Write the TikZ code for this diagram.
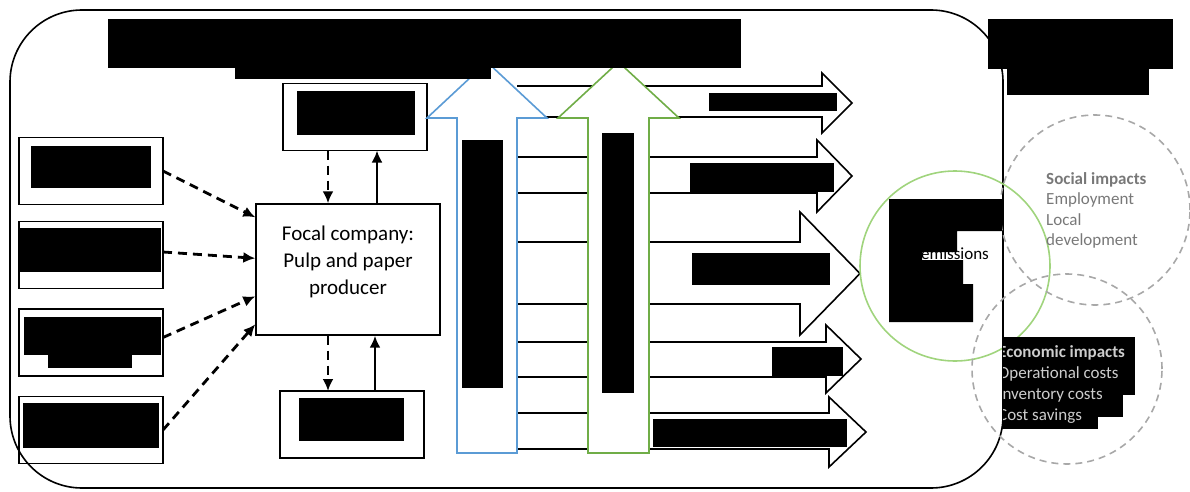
\documentclass[tikz,border=0pt]{standalone}
\usepackage{fontspec}
\setmainfont{Carlito}
\usetikzlibrary{arrows.meta, calc, positioning}

\definecolor{upblue}{RGB}{91,155,213}
\definecolor{upgreen}{RGB}{112,173,71}
\definecolor{ringgreen}{RGB}{160,212,125}
\definecolor{ringgray}{RGB}{168,168,168}
\definecolor{txtgray}{RGB}{120,120,120}
\definecolor{txtlight}{RGB}{205,205,205}

% block arrow to the right: top, bottom, head base, head top, head bottom, tip
\newcommand{\outarrow}[6]{%
  \draw[blockline] (517,#1) -- (#3,#1) -- (#3,#4) -- (#6,{(#4+#5)/2}) -- (#3,#5) -- (#3,#2) -- (517,#2);}

\begin{document}
\begin{tikzpicture}[x=1pt, y=-1pt, line join=miter]
	\tikzstyle{srcbox}=[draw, line width=1.4pt, minimum width=144pt, minimum height=67pt, inner sep=0pt, outer sep=0pt]
	\tikzstyle{dasharrow}=[line width=2.8pt, dash pattern=on 9pt off 6pt, -{Latex[length=12pt,width=11pt]}]
	\tikzstyle{fullarrow}=[line width=2.8pt, -{Latex[length=12pt,width=11pt]}]
	\tikzstyle{blockline}=[line width=1.6pt]
	\tikzstyle{upshaft}=[fill=white, line width=1.6pt]
	\tikzstyle{ring}=[ringgray, line width=1.6pt, dash pattern=on 7pt off 5pt]
	\useasboundingbox (0,0) rectangle (1190,492);

	% outer frame
	\draw[line width=1.6pt, rounded corners=72pt] (10,10) rectangle (1003,488);

	% suppliers and partners
	\node[srcbox] (supA) at (91,171) {};
	\node[srcbox] (supB) at (91,255) {};
	\node[srcbox] (supC) at (91,342.5) {};
	\node[srcbox] (supD) at (91,430) {};
	\node[srcbox] (upper) at (355,117) {};
	\node[srcbox] (lower) at (352,424.5) {};
	\node[draw, line width=1.4pt, minimum width=184pt, minimum height=131pt, inner sep=0pt] (focal) at (348,269.5) {};
	\node[align=center, font=\fontsize{21}{27}\selectfont] (focaltxt) at (348,262) {Focal company:\\Pulp and paper\\producer};

	\fill (31,146) rectangle (151,188);
	\fill (19,228) rectangle (161,272);
	\fill (24,317) rectangle (161,355);
	\fill (48,355) rectangle (132,368);
	\fill (23,403) rectangle (159,448);
	\fill (297,91) rectangle (415,135);
	\fill (299,398) rectangle (404,441);

	\draw[dasharrow] (supA.east) -- ([yshift=-14pt]focal.north west);
	\draw[dasharrow] ([yshift=3pt]supB.east) -- ([yshift=-55pt]focal.north west);
	\draw[dasharrow] ([yshift=5pt]supC.east) -- ([yshift=-93pt]focal.north west);
	\draw[dasharrow] (supD.east) -- ([yshift=-121pt]focal.north west);

	\draw[dasharrow] ([xshift=-27pt]upper.south) -- ([xshift=-27pt]upper.south |- focal.north);
	\draw[fullarrow] ([xshift=22pt]upper.south |- focal.north) -- ([xshift=22pt]upper.south);
	\draw[dasharrow] ([xshift=-20pt]focal.south) -- ([xshift=-20pt]focal.south |- lower.north);
	\draw[fullarrow] ([xshift=23pt]lower.north) -- ([xshift=23pt]lower.north |- focal.south);

	% outputs
	\outarrow{86}{117}{822}{73}{133}{852}
	\outarrow{157}{193}{817}{140}{212}{852}
	\outarrow{242}{304}{800}{212}{335}{860}
	\outarrow{342}{377}{826}{325}{393}{861}
	\outarrow{413}{449}{829}{397}{467}{866}
	\fill (709,93) rectangle (837,111);
	\fill (690,163) rectangle (834,192);
	\fill (692,253) rectangle (830,285);
	\fill (772,347) rectangle (843,376);
	\fill (653,419) rectangle (847,447);

	% upward flows
	\draw[upshaft, draw=upblue] (457,453) -- (457,118) -- (427,118) -- (487,62) -- (547,118) -- (517,118) -- (517,453) -- cycle;
	\draw[upshaft, draw=upgreen] (588,453) -- (588,118) -- (558,118) -- (618.5,62) -- (679,118) -- (649,118) -- (649,453) -- cycle;
	\fill (462,140) rectangle (503,388);
	\fill (602,133) rectangle (634,393);

	% headings
	\fill (108,19) rectangle (283,68);
	\fill (235,19) rectangle (491,79);
	\fill (463,19) rectangle (741,68);
	\fill (988,19) rectangle (1173,69);
	\fill (1007,69) rectangle (1149,95);

	% impacts
	\draw[ringgreen, line width=1.6pt] (955,266) circle (95pt);
	\draw[ring] (1095,210) circle (95pt);
	\draw[ring] (1067,369) circle (95pt);

	\fill (889,199) -- (1002,199) -- (1002,231) -- (957,231) -- (957,252) -- (922,252) -- (922,260) -- (963,260) -- (963,284) -- (973,284) -- (973,322) -- (889,322) -- cycle;
	\node[anchor=base west, inner sep=0pt, font=\fontsize{17}{20}\selectfont] (envtxt) at (921,259) {emissions};

	\node[anchor=north west, inner sep=0pt, align=left, text=txtgray, font=\fontsize{17}{20.5}\selectfont] (socialtxt) at (1046,172) {\textbf{Social impacts}\\Employment\\Local\\development};

	\fill (1002,337) rectangle (1135,395);
	\fill (1002,395) rectangle (1123,417);
	\fill (1002,417) rectangle (1098,429);
	\begin{scope}
		\clip (1003,330) rectangle (1190,440);
		\node[anchor=north west, inner sep=0pt, align=left, text=txtlight, font=\fontsize{17}{21}\selectfont] (econtxt) at (998,345) {\textbf{Economic impacts}\\Operational costs\\Inventory costs\\Cost savings};
	\end{scope}
\end{tikzpicture}
\end{document}
